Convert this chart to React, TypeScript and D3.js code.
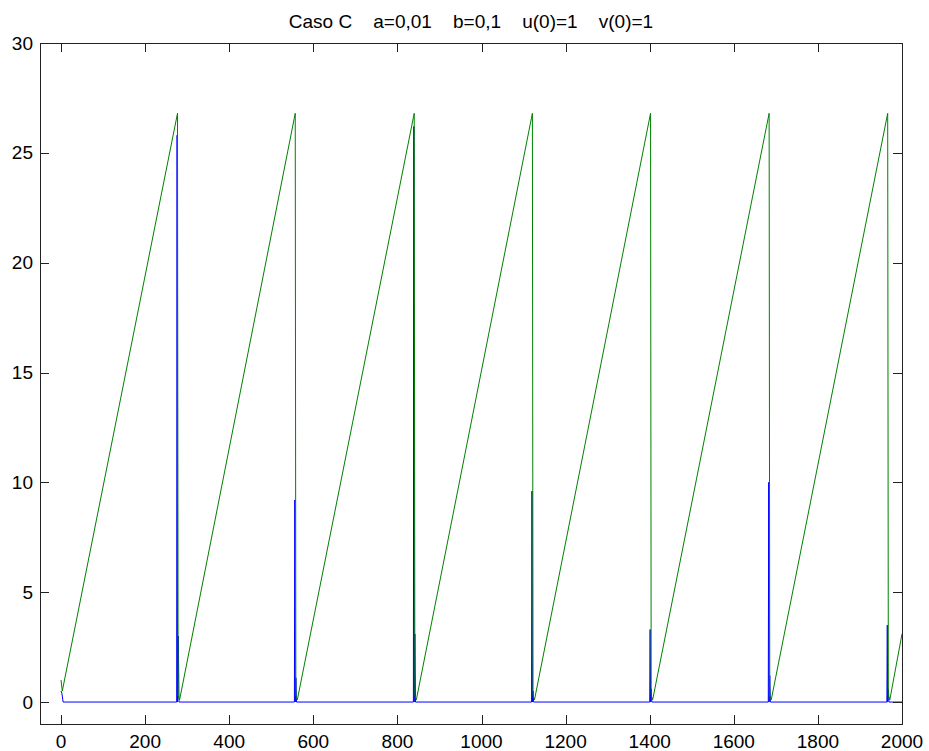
import React, { useEffect, useRef } from 'react';
import * as d3 from 'd3';

// title and tick labels
const titleText = 'Caso C    a=0,01    b=0,1    u(0)=1    v(0)=1';
const xTicks = [0, 200, 400, 600, 800, 1000, 1200, 1400, 1600, 1800, 2000];
const yTicks = [0, 5, 10, 15, 20, 25, 30];

// v(t), green sawtooth
const greenT = [0, 3, 277, 278.5, 282, 557, 558.5, 562, 840, 841.5, 845, 1121, 1122.5, 1126, 1402, 1403.5, 1407, 1684, 1685.5, 1689, 1966, 1967.5, 1971, 2000];
const greenV = [1.0, 0.5, 26.8, 0.3, 0.1, 26.8, 0.3, 0.1, 26.8, 0.3, 0.1, 26.8, 0.3, 0.1, 26.8, 0.3, 0.1, 26.8, 0.3, 0.1, 26.8, 0.3, 0.1, 3.1];

// u(t), blue spikes
const blueT = [0, 2, 5,
  275, 276, 277, 279, 280.5,
  555, 556, 557, 558.5, 560,
  838, 839, 840, 841.5, 843,
  1119, 1120, 1121, 1122.5, 1124,
  1400, 1401, 1402, 1403.5, 1405,
  1682, 1683, 1684, 1685.5, 1687,
  1964, 1965, 1966, 1967.5, 1969,
  2000];
const blueU = [0.5, 0.4, 0,
  0, 25.8, 0, 3.0, 0,
  0, 9.2, 0, 1.1, 0,
  0, 26.2, 0, 3.1, 0,
  0, 9.6, 0, 0.5, 0,
  0, 3.3, 0, 0.6, 0,
  0, 10.0, 0, 1.2, 0,
  0, 3.5, 0, 0.6, 0,
  0];

function App() {
  const ref = useRef<SVGSVGElement>(null);

  useEffect(() => {
    drawChart();
  }, []);

  function drawChart() {
    const svgWidth = 929, svgHeight = 751;
    const left = 40, right = 902, top = 43, bottom = 724;
    const font = '"Liberation Sans", Arial, Helvetica, sans-serif';

    const svg = d3.select(ref.current);
    svg.selectAll('*').remove();
    svg.attr('width', svgWidth).attr('height', svgHeight);

    svg.append('rect').attr('width', svgWidth).attr('height', svgHeight).attr('fill', '#fff');

    const x = d3.scaleLinear().domain([-50, 2000]).range([left, right]);
    const y = d3.scaleLinear().domain([-1, 30]).range([bottom, top]);

    const clip = svg.append('clipPath').attr('id', 'plotclip');
    clip.append('rect').attr('x', left).attr('y', top).attr('width', right - left).attr('height', bottom - top);

    const line = d3.line<[number, number]>()
      .x(d => x(d[0]))
      .y(d => y(d[1]));

    const plot = svg.append('g').attr('clip-path', 'url(#plotclip)');

    plot.append('path')
      .datum(blueT.map((t, i) => [t, blueU[i]] as [number, number]))
      .attr('fill', 'none')
      .attr('stroke', '#0000ff')
      .attr('stroke-width', 1)
      .attr('d', line);

    plot.append('path')
      .datum(greenT.map((t, i) => [t, greenV[i]] as [number, number]))
      .attr('fill', 'none')
      .attr('stroke', '#008000')
      .attr('stroke-width', 1)
      .attr('d', line);

    // box and inward ticks
    const axisColor = '#222';
    const tickLen = 9;
    const ax = svg.append('g').attr('stroke', axisColor).attr('stroke-width', 1).attr('shape-rendering', 'crispEdges');
    ax.append('rect')
      .attr('x', left + 0.5).attr('y', top + 0.5)
      .attr('width', right - left).attr('height', bottom - top)
      .attr('fill', 'none');

    xTicks.forEach(t => {
      const px = Math.round(x(t)) + 0.5;
      ax.append('line').attr('x1', px).attr('x2', px).attr('y1', bottom).attr('y2', bottom - tickLen);
      ax.append('line').attr('x1', px).attr('x2', px).attr('y1', top).attr('y2', top + tickLen);
    });
    yTicks.forEach(t => {
      const py = Math.round(y(t)) + 0.5;
      ax.append('line').attr('x1', left).attr('x2', left + tickLen).attr('y1', py).attr('y2', py);
      ax.append('line').attr('x1', right).attr('x2', right - tickLen).attr('y1', py).attr('y2', py);
    });

    // tick labels
    svg.append('g').selectAll('text').data(xTicks).enter().append('text')
      .attr('x', d => x(d))
      .attr('y', 748)
      .attr('text-anchor', 'middle')
      .attr('font-family', font)
      .attr('font-size', 19)
      .attr('fill', '#000')
      .text(d => String(d));

    svg.append('g').selectAll('text').data(yTicks).enter().append('text')
      .attr('x', 33)
      .attr('y', d => y(d))
      .attr('dy', '0.35em')
      .attr('text-anchor', 'end')
      .attr('font-family', font)
      .attr('font-size', 19)
      .attr('fill', '#000')
      .text(d => String(d));

    // title
    svg.append('text')
      .attr('x', (left + right) / 2)
      .attr('y', 28)
      .attr('text-anchor', 'middle')
      .attr('font-family', font)
      .attr('font-size', 19)
      .attr('fill', '#000')
      .style('white-space', 'pre')
      .text(titleText);
  }

  return (
    <div>
      <svg ref={ref} style={{ position: 'absolute', left: 0, top: 0 }}></svg>
    </div>
  );
}

export default App;
